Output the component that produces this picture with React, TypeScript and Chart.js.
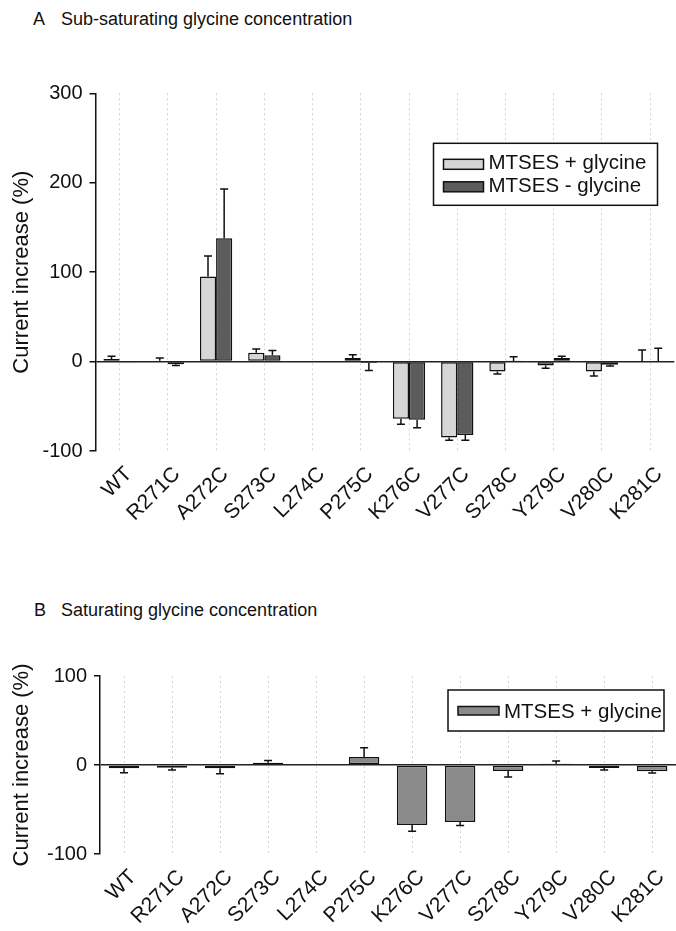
import React, { useEffect, useRef } from 'react';
import { Chart, registerables } from 'chart.js';

Chart.register(...registerables);

const FONT = '"Liberation Sans", Arial, Helvetica, sans-serif';
const INK = '#111111';

// ---------- data ----------
const categories = ['WT', 'R271C', 'A272C', 'S273C', 'L274C', 'P275C', 'K276C', 'V277C', 'S278C', 'Y279C', 'V280C', 'K281C'];

// Panel A: sub-saturating glycine
const subPlusGly = [3, 1, 95, 10, null, 4, -64, -85, -11, -4.5, -11, 0];
const subPlusGlyErr = [3, 3, 23, 4, null, 3.5, -6, -3, -3, -3, -5, 13];
const subMinusGly = [-1, -3, 138, 7, null, -1.5, -65, -82, 0.5, 4, -3.5, 0];
const subMinusGlyErr = [0, -1.5, 55, 5.5, null, -8.5, -9, -6, 5, 2, -1.5, 15];
const subTicks = [-100, 0, 100, 200, 300];

// Panel B: saturating glycine
const satPlusGly = [-3.7, -3, -3.7, 2.6, null, 9, -67.5, -64, -6.7, 1.5, -3.4, -7];
const satPlusGlyErr = [-5, -2.5, -6, 2.4, null, 10.5, -7, -4, -6.7, 3, -2.2, -2];
const satTicks = [-100, 0, 100];

const labelPlus = 'MTSES + glycine';
const labelMinus = 'MTSES - glycine';
const yTitle = 'Current increase (%)';

// ---------- plugins ----------
const errorBarPlugin = {
  id: 'errorBars',
  afterDatasetsDraw(chart: any) {
    const { ctx } = chart;
    const yScale = chart.scales.y;
    ctx.save();
    ctx.strokeStyle = INK;
    ctx.lineWidth = 1.5;
    chart.data.datasets.forEach((ds: any, i: number) => {
      const meta = chart.getDatasetMeta(i);
      meta.data.forEach((el: any, j: number) => {
        const v = ds.data[j];
        const e = ds.errors ? ds.errors[j] : null;
        if (v == null || e == null || e === 0) return;
        const x = el.x;
        const y0 = yScale.getPixelForValue(v);
        const y1 = yScale.getPixelForValue(v + e);
        const cap = 4;
        ctx.beginPath();
        ctx.moveTo(x, y0);
        ctx.lineTo(x, y1);
        ctx.moveTo(x - cap, y1);
        ctx.lineTo(x + cap, y1);
        ctx.stroke();
      });
    });
    ctx.restore();
  },
};

const boxLegendPlugin = {
  id: 'boxLegend',
  afterDraw(chart: any, _args: any, opts: any) {
    if (!opts || !opts.display) return;
    const { ctx, chartArea } = chart;
    const bx = chartArea.left + opts.left;
    const by = chartArea.top + opts.top;
    ctx.save();
    ctx.fillStyle = '#ffffff';
    ctx.fillRect(bx, by, opts.width, opts.height);
    ctx.strokeStyle = INK;
    ctx.lineWidth = 1.5;
    ctx.strokeRect(bx, by, opts.width, opts.height);
    ctx.font = `${opts.fontSize}px ${FONT}`;
    ctx.textBaseline = 'alphabetic';
    ctx.textAlign = 'left';
    chart.data.datasets.forEach((ds: any, i: number) => {
      const row = opts.rows[i];
      ctx.fillStyle = ds.backgroundColor;
      ctx.fillRect(bx + opts.swatchX, by + row.swatchY, opts.swatchW, opts.swatchH);
      ctx.strokeStyle = INK;
      ctx.lineWidth = 1.5;
      ctx.strokeRect(bx + opts.swatchX, by + row.swatchY, opts.swatchW, opts.swatchH);
      ctx.fillStyle = INK;
      ctx.fillText(ds.label, bx + opts.textX, by + row.baseline);
    });
    ctx.restore();
  },
};

function makeConfig(opts: {
  datasets: any[];
  ticks: number[];
  yWidth: number;
  xHeight: number;
  padTop: number;
  barFrac: number;
  legend: any;
}) {
  const { datasets, ticks, yWidth, xHeight, padTop, barFrac, legend } = opts;
  return {
    type: 'bar' as const,
    data: { labels: categories, datasets },
    plugins: [errorBarPlugin, boxLegendPlugin],
    options: {
      responsive: false,
      animation: false,
      devicePixelRatio: 1,
      layout: { padding: { top: padTop, left: 0, right: 0, bottom: 0 } },
      datasets: {
        bar: { categoryPercentage: barFrac, barPercentage: 1, borderWidth: 1.5, borderColor: INK, borderSkipped: false },
      },
      plugins: {
        legend: { display: false },
        tooltip: { enabled: false },
        title: { display: false },
        boxLegend: legend,
      },
      scales: {
        x: {
          type: 'category',
          offset: true,
          grid: {
            display: true,
            offset: false,
            drawOnChartArea: true,
            drawTicks: false,
            color: '#d2d2d2',
            lineWidth: 1,
          },
          border: { display: false, dash: [2, 3] },
          ticks: {
            autoSkip: false,
            maxRotation: 45,
            minRotation: 45,
            padding: 11,
            labelOffset: 9,
            color: INK,
            font: { family: FONT, size: 21 },
          },
          afterFit(scale: any) {
            scale.height = xHeight;
          },
        },
        y: {
          min: ticks[0],
          max: ticks[ticks.length - 1],
          afterBuildTicks(scale: any) {
            scale.ticks = ticks.map((v) => ({ value: v }));
          },
          grid: {
            display: true,
            drawOnChartArea: true,
            drawTicks: true,
            tickLength: 6,
            tickColor: INK,
            tickWidth: 1.5,
            lineWidth: 1.5,
            color: (c: any) => (c.tick && c.tick.value === 0 ? '#222222' : 'rgba(0,0,0,0)'),
          },
          border: { display: true, color: INK, width: 1.5 },
          ticks: {
            padding: 7,
            color: INK,
            font: { family: FONT, size: 20 },
          },
          title: {
            display: true,
            text: yTitle,
            color: INK,
            font: { family: FONT, size: 22 },
            padding: { top: 9, bottom: 0 },
          },
          afterFit(scale: any) {
            scale.width = yWidth;
          },
        },
      },
    },
  };
}

export default function App() {
  const refA = useRef<HTMLCanvasElement | null>(null);
  const refB = useRef<HTMLCanvasElement | null>(null);

  useEffect(() => {
    const charts: Chart[] = [];
    if (refA.current) {
      const cfgA: any = makeConfig({
        datasets: [
          { label: labelPlus, data: subPlusGly, errors: subPlusGlyErr, backgroundColor: '#d6d6d6' },
          { label: labelMinus, data: subMinusGly, errors: subMinusGlyErr, backgroundColor: '#5c5c5c' },
        ],
        ticks: subTicks,
        yWidth: 95.5,
        xHeight: 89,
        padTop: 93.3,
        barFrac: 0.67,
        legend: {
          display: true,
          left: 338,
          top: 50,
          width: 224,
          height: 62,
          fontSize: 20.5,
          swatchX: 10,
          swatchW: 40,
          swatchH: 10,
          textX: 55,
          rows: [
            { swatchY: 16, baseline: 26 },
            { swatchY: 38.5, baseline: 48.5 },
          ],
        },
      });
      charts.push(new Chart(refA.current, cfgA));
    }
    if (refB.current) {
      const cfgB: any = makeConfig({
        datasets: [{ label: labelPlus, data: satPlusGly, errors: satPlusGlyErr, backgroundColor: '#8a8a8a' }],
        ticks: satTicks,
        yWidth: 100,
        xHeight: 76,
        padTop: 36,
        barFrac: 0.634,
        legend: {
          display: true,
          left: 348,
          top: 14,
          width: 216,
          height: 41,
          fontSize: 20.5,
          swatchX: 10,
          swatchW: 41,
          swatchH: 8.5,
          textX: 56,
          rows: [{ swatchY: 16.5, baseline: 28 }],
        },
      });
      charts.push(new Chart(refB.current, cfgB));
    }
    return () => charts.forEach((c) => c.destroy());
  }, []);

  const titleStyle: React.CSSProperties = {
    position: 'absolute',
    font: `18px ${FONT}`,
    lineHeight: '18px',
    whiteSpace: 'pre',
    color: INK,
  };

  return (
    <div style={{ position: 'absolute', left: 0, top: 0, width: 676, height: 931, overflow: 'hidden', background: '#fff' }}>
      <div style={{ ...titleStyle, left: 33, top: 10 }}>A</div>
      <div style={{ ...titleStyle, left: 61, top: 10 }}>Sub-saturating glycine concentration</div>
      <div style={{ ...titleStyle, left: 34, top: 601 }}>B</div>
      <div style={{ ...titleStyle, left: 61, top: 601 }}>Saturating glycine concentration</div>
      <canvas ref={refA} width={679} height={540} style={{ position: 'absolute', left: 0, top: 0 }} />
      <canvas ref={refB} width={681} height={290} style={{ position: 'absolute', left: 0, top: 640 }} />
    </div>
  );
}
